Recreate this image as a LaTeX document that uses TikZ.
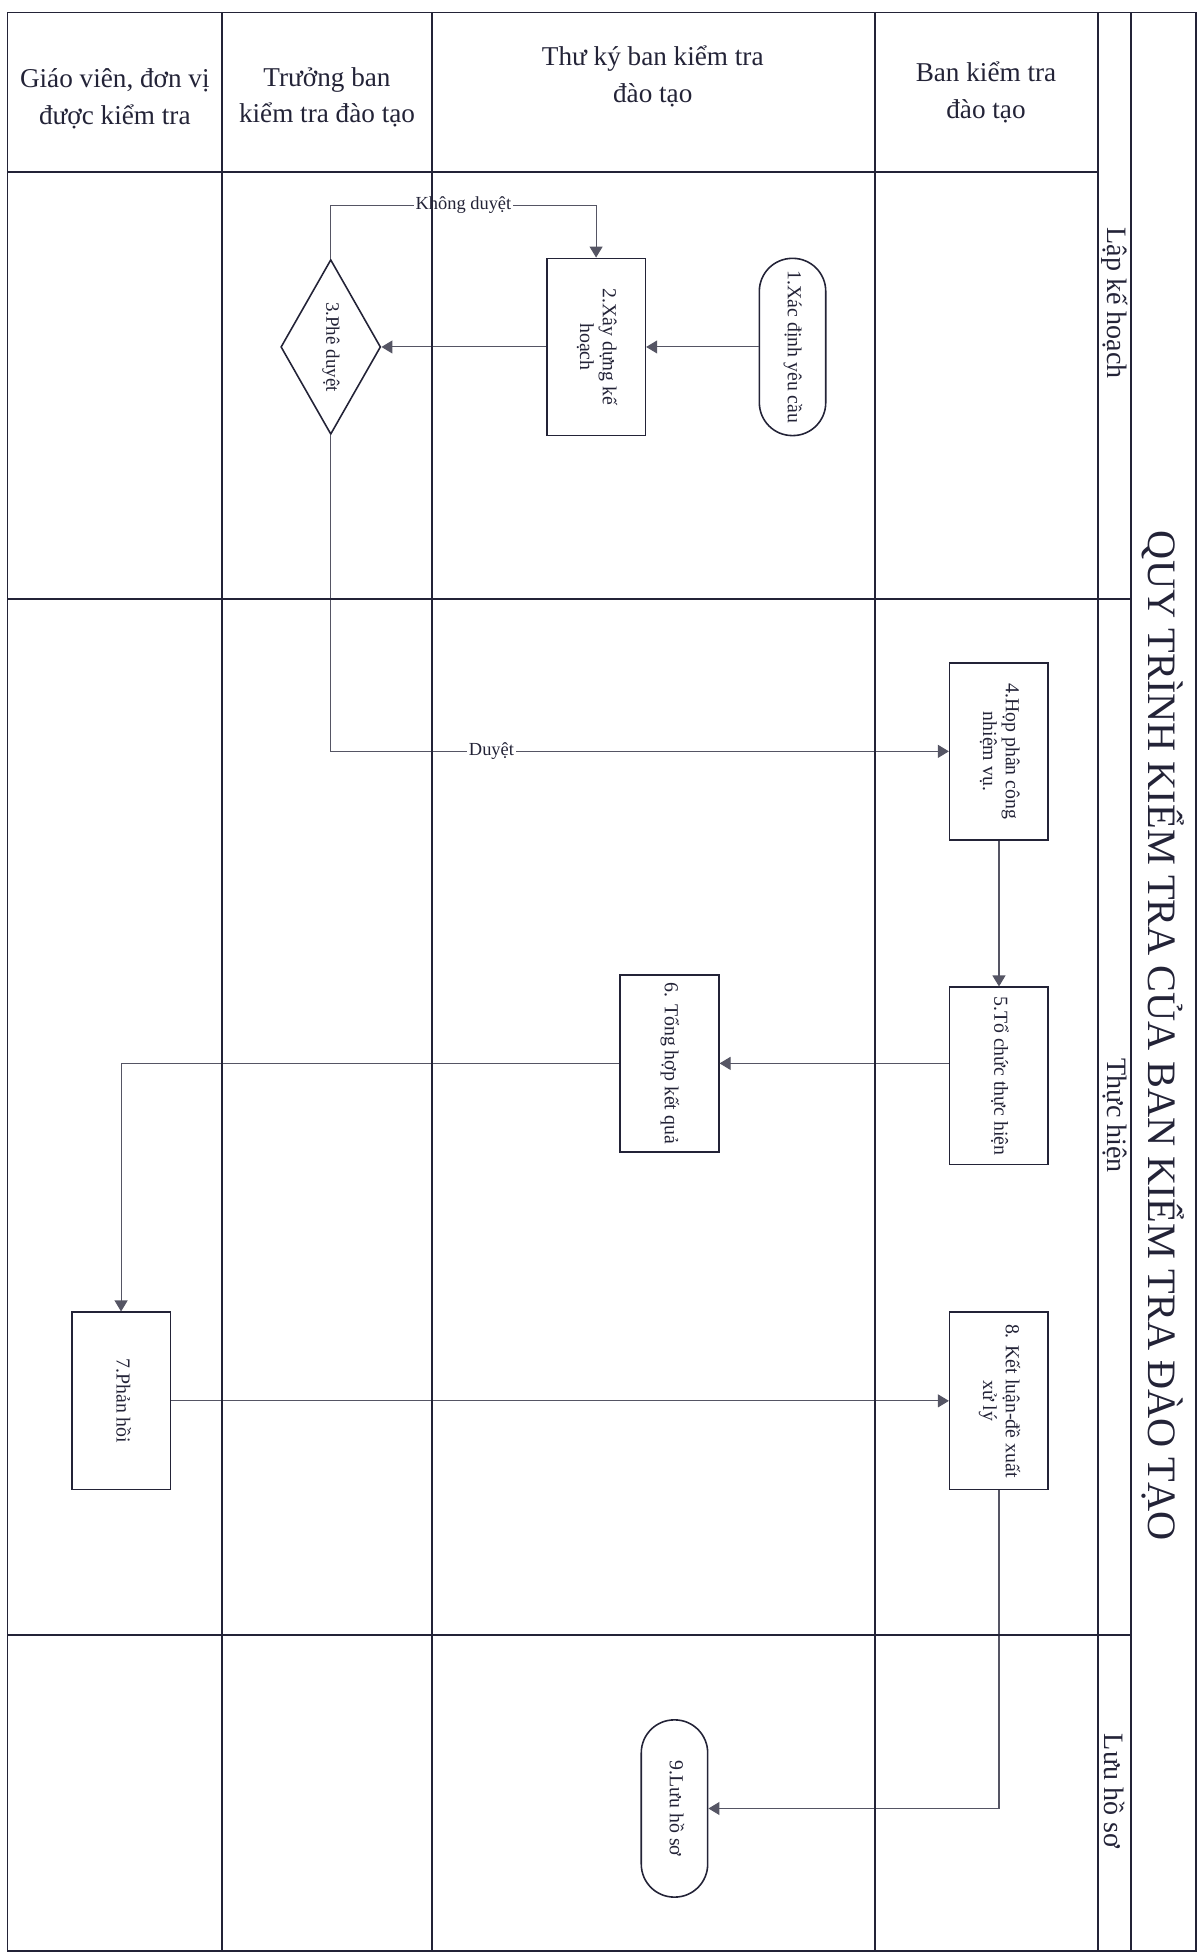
\documentclass[tikz,border=0pt]{standalone}
\usepackage{fontspec}
\setmainfont{Liberation Serif}
\usepackage{graphicx}
\usepackage{xcolor}
\usetikzlibrary{arrows.meta,positioning,shapes.geometric}
\definecolor{ink}{RGB}{35,35,55}
\definecolor{wire}{RGB}{85,85,100}
\newcommand{\sidetext}[1]{\rotatebox{-90}{\begin{tabular}{@{}c@{}}#1\end{tabular}}}

\begin{document}
\begin{tikzpicture}[
  lane/.style={draw=ink,line width=1.1pt},
  stepbox/.style={draw=ink,line width=0.9pt,minimum width=1.975cm,minimum height=3.55cm,inner sep=2pt,font=\fontsize{11.3}{13}\selectfont,text=ink},
  term/.style={stepbox,rounded corners=6.6mm,minimum width=1.33cm},
  decide/.style={draw=ink,line width=0.9pt,diamond,aspect=0.57,minimum width=2cm,minimum height=3.5cm,inner sep=1pt,font=\fontsize{10.8}{12.5}\selectfont,text=ink},
  head/.style={align=center,font=\fontsize{15.5}{21}\selectfont,text=ink},
  phase/.style={rotate=-90,font=\fontsize{16}{19}\selectfont,text=ink},
  titletxt/.style={rotate=-90,font=\fontsize{23}{27}\selectfont,text=ink},
  arr/.style={draw=wire,line width=0.6pt,-{Triangle[length=2.2mm,width=2.6mm]}},
  lbl/.style={fill=white,inner sep=1pt,font=\fontsize{10.5}{12}\selectfont,text=ink}
]
\useasboundingbox (0,0) rectangle (24.025,-39.2);
% headers
\node[head] (hTeach) at (2.3,-1.975) {Giáo viên, đơn vị\\được kiểm tra};
\node[head] (hHead) at (6.55,-1.95) {Trưởng ban\\kiểm tra đào tạo};
\node[head] (hSec) at (13.075,-1.525) {Thư ký ban kiểm tra\\đào tạo};
\node[head] (hBoard) at (19.75,-1.85) {Ban kiểm tra\\đào tạo};
\node[phase] (pPlan) at (22.325,-6.075) {Lập kế hoạch};
\node[phase] (pExec) at (22.325,-22.35) {Thực hiện};
\node[phase] (pStore) at (22.325,-35.875) {Lưu hồ sơ};
\node[titletxt] (title) at (23.3,-20.75) {QUY TRÌNH KIỂM TRA CỦA BAN KIỂM TRA ĐÀO TẠO};
% steps
\node[term] (req) at (15.875,-6.95) {\sidetext{1.Xác định yêu cầu}};
\node[stepbox] (plan) at (11.94,-6.95) {\sidetext{2.Xây dựng kế\\hoạch}};
\node[decide] (appr) at (6.625,-6.95) {\sidetext{3.Phê duyệt}};
\node[stepbox] (meet) at (20.01,-15.05) {\sidetext{4.Họp phân công\\nhiệm vụ.}};
\node[stepbox] (exec) at (20.01,-21.55) {\sidetext{5.Tổ chức thực hiện}};
\node[stepbox] (sum) at (13.41,-21.3) {\sidetext{6. Tổng hợp kết quả}};
\node[stepbox] (resp) at (2.425,-28.06) {\sidetext{7.Phản hồi}};
\node[stepbox] (concl) at (20.01,-28.06) {\sidetext{8. Kết luận-đề xuất\\xử lý}};
\node[term] (arch) at (13.51,-36.225) {\sidetext{9.Lưu hồ sơ}};
% flow
\draw[arr] (req) -- (plan);
\draw[arr] (plan) -- (appr);
\draw[arr] (appr.north) -- ++(0,1.075) -| node[lbl,pos=0.25] {Không duyệt} (plan.north);
\draw[arr] (appr.south) |- node[lbl,pos=0.63] {Duyệt} (meet.west);
\draw[arr] (meet) -- (exec);
\draw[arr] (exec.west |- sum) -- (sum.east);
\draw[arr] (sum.west) -| (resp.north);
\draw[arr] (resp) -- (concl);
\draw[arr] (concl.south) |- (arch.east);
% lanes
\draw[lane] (0.15,-0.25) rectangle (23.95,-39.08);
\draw[lane] (4.45,-0.25) -- (4.45,-39.08) (8.65,-0.25) -- (8.65,-39.08) (17.525,-0.25) -- (17.525,-39.08)
  (22,-0.25) -- (22,-39.08) (22.65,-0.25) -- (22.65,-39.08);
\draw[lane] (0.15,-3.45) -- (22,-3.45) (0.15,-12) -- (22.65,-12) (0.15,-32.75) -- (22.65,-32.75);
\end{tikzpicture}
\end{document}
